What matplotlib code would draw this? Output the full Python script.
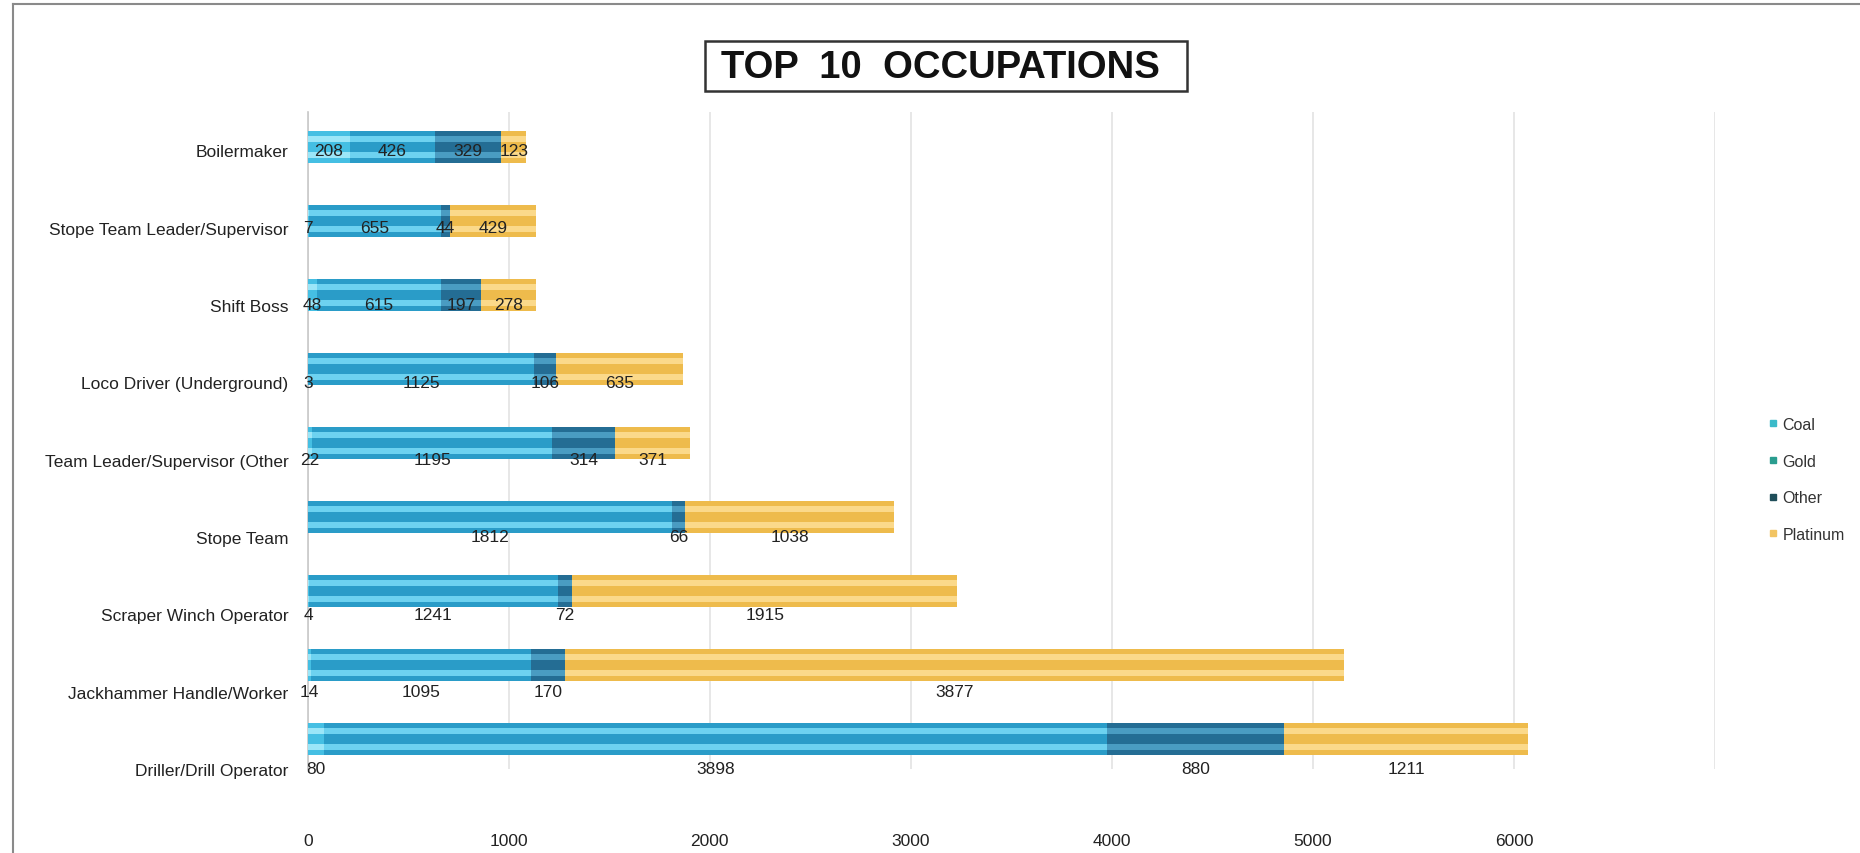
import matplotlib
matplotlib.use("Agg")
import matplotlib.pyplot as plt
import numpy as np
from matplotlib.lines import Line2D
from matplotlib.patches import Rectangle

plt.rcParams['font.family'] = ['Liberation Sans', 'DejaVu Sans']

categories = ["Boilermaker", "Stope Team Leader/Supervisor", "Shift Boss",
              "Loco Driver (Underground)", "Team Leader/Supervisor (Other",
              "Stope Team", "Scraper Winch Operator", "Jackhammer Handle/Worker",
              "Driller/Drill Operator"]
coal = [208, 7, 48, 3, 22, 0, 4, 14, 80]
gold = [426, 655, 615, 1125, 1195, 1812, 1241, 1095, 3898]
other = [329, 44, 197, 106, 314, 66, 72, 170, 880]
platinum = [123, 429, 278, 635, 371, 1038, 1915, 3877, 1211]
series_names = ["Coal", "Gold", "Other", "Platinum"]
xticks = [0, 1000, 2000, 3000, 4000, 5000, 6000, 7000]
xtick_labels = ["0", "1000", "2000", "3000", "4000", "5000", "6000", ""]

series = [coal, gold, other, platinum]
base_colors = ["#45bfe3", "#2a9cc8", "#246d94", "#eebb4c"]
light_colors = ["#9be6f8", "#6dd2f0", "#4a9cc2", "#fbd98a"]
legend_colors = ["#3bbac9", "#2a9d8f", "#1f4e5a", "#f2c463"]

fig = plt.figure(figsize=(18.6, 8.54), dpi=100)
rect = [307.7 / 1860, 1 - 770 / 854, (1715 - 307.7) / 1860, (770 - 113) / 854]
ax = fig.add_axes(rect)
ax2 = fig.add_axes(rect, sharex=ax)

y = np.arange(len(categories))
h = 0.42
left = np.zeros(len(categories))
for vals, bc, lc in zip(series, base_colors, light_colors):
    v = np.array(vals, dtype=float)
    ax.barh(y, v, left=left, height=h, color=bc, linewidth=0, zorder=3)
    for off in (-0.105, 0.105):
        ax.barh(y + off, v, left=left, height=0.085, color=lc, linewidth=0, zorder=4)
    for i, val in enumerate(vals):
        if val > 0:
            ax2.text(left[i] + val / 2, i, str(val), ha='center', va='center',
                     fontsize=12.5, color='#222222', zorder=6)
    left += v

ax.set_xlim(0, 7000)
ax.set_ylim(8.405, -0.473)
ax.set_yticks([])
ax.set_xticks(xticks)
ax.set_xticklabels(xtick_labels, fontsize=12.5, color='#222222')
ax.tick_params(axis='x', length=0, pad=46)
ax.grid(axis='x', color='#e3e3e3', linewidth=1.2, zorder=0)
for s in ['top', 'right', 'bottom']:
    ax.spines[s].set_visible(False)
ax.spines['left'].set_color('#c8c8c8')
ax.spines['left'].set_linewidth(1.2)

ax2.set_ylim(7.833, -0.494)
ax2.patch.set_visible(False)
for s in ax2.spines.values():
    s.set_visible(False)
ax2.set_yticks(y)
ax2.set_yticklabels(categories, fontsize=12.5, color='#222222')
ax2.tick_params(axis='y', length=0, pad=14)
ax2.tick_params(axis='x', bottom=False, labelbottom=False)

# title with box
fig.add_artist(Rectangle((705 / 1860, 1 - 92 / 854), (1187 - 705) / 1860, 50 / 854,
                         transform=fig.transFigure, fill=False, edgecolor='#333333',
                         linewidth=1.8))
fig.text(940 / 1860, 1 - 68 / 854, "TOP  10  OCCUPATIONS", ha='center', va='center',
         fontsize=27.5, fontweight='bold', color='#111111')

# outer frame (left and top)
fig.add_artist(Line2D([13 / 1860, 13 / 1860], [0, 1 - 5 / 854], transform=fig.transFigure,
                      color='#8a8a8a', linewidth=1.5))
fig.add_artist(Line2D([13 / 1860, 1], [1 - 5 / 854, 1 - 5 / 854], transform=fig.transFigure,
                      color='#8a8a8a', linewidth=1.5))

handles = [Line2D([0], [0], marker='s', linestyle='none', markersize=5,
                  markerfacecolor=c, markeredgecolor=c) for c in legend_colors]
fig.legend(handles, series_names, loc='upper left',
           bbox_to_anchor=(1760 / 1860, 1 - 410 / 854), frameon=False,
           fontsize=11.5, handlelength=0.6, handletextpad=0.3, labelspacing=1.35,
           borderpad=0, labelcolor='#333333')

fig.savefig("out.png", dpi=100)
